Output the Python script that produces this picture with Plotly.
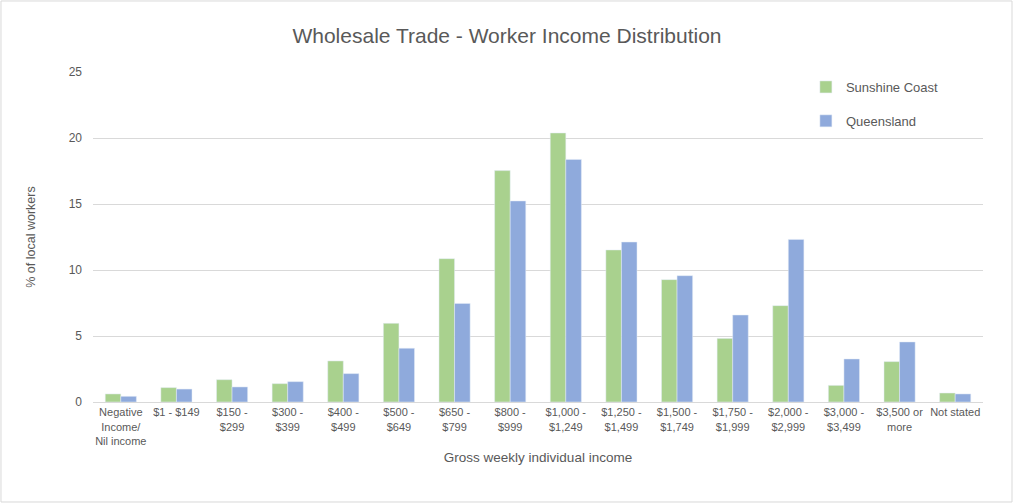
import plotly.graph_objects as go

categories = ["Negative<br>Income/<br>Nil income", "$1 - $149", "$150 -<br>$299", "$300 -<br>$399",
              "$400 -<br>$499", "$500 -<br>$649", "$650 -<br>$799", "$800 -<br>$999",
              "$1,000 -<br>$1,249", "$1,250 -<br>$1,499", "$1,500 -<br>$1,749", "$1,750 -<br>$1,999",
              "$2,000 -<br>$2,999", "$3,000 -<br>$3,499", "$3,500 or<br>more", "Not stated"]
sunshine_coast = [0.61, 1.09, 1.69, 1.39, 3.11, 5.96, 10.86, 17.53, 20.38, 11.52, 9.27, 4.82, 7.30, 1.26, 3.06, 0.68]
queensland = [0.43, 0.98, 1.14, 1.54, 2.15, 4.07, 7.47, 15.23, 18.38, 12.12, 9.57, 6.59, 12.32, 3.26, 4.55, 0.61]

grey = "#595959"
font_main = "Liberation Sans, Arial, sans-serif"

fig = go.Figure()
fig.add_trace(go.Bar(name="Sunshine Coast", x=categories, y=sunshine_coast,
                     marker_color="#A9D18E", legendgroup="a"))
fig.add_trace(go.Bar(name="Queensland", x=categories, y=queensland,
                     marker_color="#8FAADC", legendgroup="b"))

fig.update_layout(
    width=1014, height=504,
    paper_bgcolor="white", plot_bgcolor="white",
    margin=dict(l=93, r=31, t=72, b=102),
    barmode="group", bargap=0.44, bargroupgap=0,
    title=dict(text="Wholesale Trade - Worker Income Distribution", x=0.5, xanchor="center",
               y=0.93, yanchor="middle",
               font=dict(family=font_main, size=21, color=grey)),
    legend=dict(x=0.801, y=1.0, xanchor="left", yanchor="top",
                bgcolor="rgba(0,0,0,0)", tracegroupgap=14,
                font=dict(family=font_main, size=13, color=grey)),
    xaxis=dict(showline=True, linecolor="#D9D9D9", linewidth=1, ticks="",
               tickfont=dict(family=font_main, size=11, color=grey), tickangle=0,
               title=dict(text="Gross weekly individual income", standoff=6,
                          font=dict(family=font_main, size=13.5, color=grey))),
    yaxis=dict(range=[0, 25], dtick=5, showgrid=True, gridcolor="#D9D9D9", zeroline=False,
               tickfont=dict(family=font_main, size=12, color=grey), ticks="",
               ticklabelstandoff=10,
               title=dict(text="% of local workers", standoff=30,
                          font=dict(family=font_main, size=12.5, color=grey))),
    shapes=[dict(type="rect", xref="paper", yref="paper", x0=-0.1034, x1=1.0326, y0=-0.303, y1=1.2152,
                 line=dict(color="#D9D9D9", width=1))],
)

fig.write_html("out.html", config={"displayModeBar": False},
               post_script="document.body.style.margin='0';document.body.style.overflow='hidden';")
